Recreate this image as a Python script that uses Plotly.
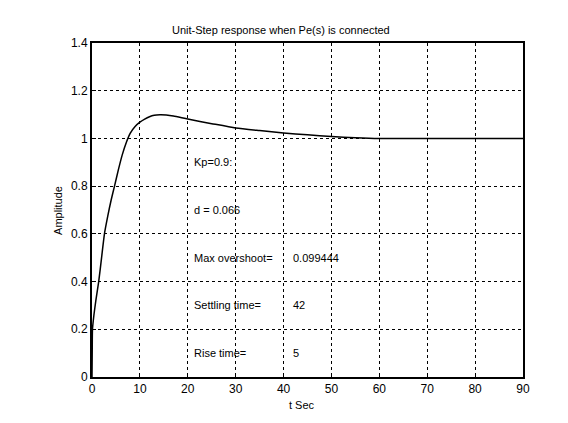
import plotly.graph_objects as go

# step response data
t_vals = [0, 0.05, 0.1, 0.4, 0.8, 1.4, 2.0, 2.6, 3.3, 4.0, 4.7, 5.5, 6.3, 7.2, 8.0, 9.0, 10, 11, 12, 13,
          14.2, 15.5, 17, 20, 25, 30, 35, 40, 45, 50, 55, 60, 70, 80, 90]
amp_vals = [0, 0.12, 0.2, 0.26, 0.32, 0.4, 0.5, 0.6, 0.675, 0.742, 0.8, 0.868, 0.93, 0.985, 1.022, 1.05,
            1.068, 1.081, 1.091, 1.097, 1.099, 1.098, 1.094, 1.081, 1.062, 1.044, 1.033, 1.023, 1.015,
            1.008, 1.003, 1.0, 1.0, 1.0, 1.0]

x_ticks = [0, 10, 20, 30, 40, 50, 60, 70, 80, 90]
y_ticks = [0, 0.2, 0.4, 0.6, 0.8, 1.0, 1.2, 1.4]
y_tick_labels = ["0", "0.2", "0.4", "0.6", "0.8", "1", "1.2", "1.4"]

info_labels = ["Kp=0.9:", "d = 0.066", "Max overshoot=", "Settling time=", "Rise time="]
info_values = ["", "", "0.099444", "42", "5"]
info_y = [0.90, 0.70, 0.50, 0.30, 0.10]

fig = go.Figure()
fig.add_trace(go.Scatter(x=t_vals, y=amp_vals, mode="lines",
                         line=dict(color="black", width=1.5, shape="spline", smoothing=0.6),
                         showlegend=False, hoverinfo="skip"))

for lab, val, yy in zip(info_labels, info_values, info_y):
    fig.add_annotation(x=20.9, y=yy, text=lab, showarrow=False, xanchor="left",
                       font=dict(size=11, color="black"))
    if val:
        fig.add_annotation(x=41.6, y=yy, text=val, showarrow=False, xanchor="left",
                           font=dict(size=11, color="black"))

axis_common = dict(showgrid=True, gridcolor="black", griddash="dot", gridwidth=1,
                   showline=True, linecolor="black", linewidth=2, mirror=True,
                   ticks="inside", ticklen=4, tickcolor="black", zeroline=False,
                   tickfont=dict(size=12, color="black", family="Liberation Sans, Arial"))

fig.update_layout(
    width=568, height=423,
    margin=dict(l=92, r=45, t=43, b=46),
    paper_bgcolor="white", plot_bgcolor="white",
    font=dict(family="Liberation Sans, Arial", color="black"),
    xaxis=dict(range=[0, 90], tickvals=x_ticks, **axis_common),
    yaxis=dict(range=[0, 1.4], tickvals=y_ticks, ticktext=y_tick_labels, **axis_common),
)

fig.add_annotation(xref="paper", yref="paper", x=0.4385, y=1.039, text="Unit-Step response when Pe(s) is connected",
                   showarrow=False, font=dict(size=11, color="black"), xanchor="center", yanchor="middle")
fig.add_annotation(xref="paper", yref="paper", x=0.487, y=-0.084, text="t Sec",
                   showarrow=False, font=dict(size=11, color="black"), xanchor="center", yanchor="middle")
fig.add_annotation(xref="paper", yref="paper", x=-0.079, y=0.5, text="Amplitude", textangle=-90,
                   showarrow=False, font=dict(size=11, color="black"), xanchor="center", yanchor="middle")

fig.write_html("out.html")
